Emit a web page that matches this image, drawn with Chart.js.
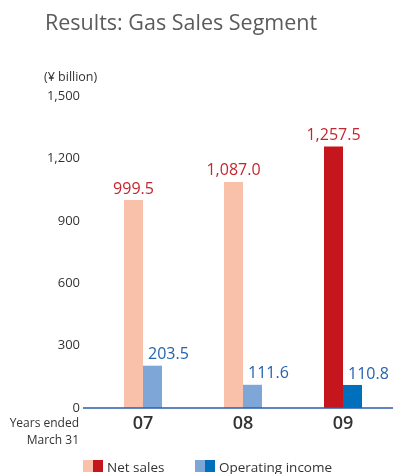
<!DOCTYPE html>
<html>
<head>
<meta charset="utf-8">
<script src="https://cdn.jsdelivr.net/npm/chart.js@4"></script>
<style>
  html, body { margin: 0; padding: 0; background: #fff; }
  #wrap { position: relative; width: 393px; height: 474px; }
</style>
</head>
<body>
<div id="wrap"><canvas id="gasChart" width="393" height="474"></canvas></div>
<script>
const years = ['07', '08', '09'];
const netSales = [999.5, 1087.0, 1257.5];
const operatingIncome = [203.5, 111.6, 110.8];
const yTicks = [0, 300, 600, 900, 1200, 1500];

const FONT = "'Open Sans', 'Noto Sans', sans-serif";
const salesColors = ['#f9c1a9', '#f9c1a9', '#c5161d'];
const incomeColors = ['#7ea7d8', '#7ea7d8', '#0070bd'];

// Titles, unit note, value labels, baseline and legend
const decorPlugin = {
    id: 'decorPlugin',
    afterDatasetsDraw(chart) {
        const { ctx } = chart;
        const y = chart.scales.y;
        ctx.save();

        ctx.fillStyle = '#5b5b5b';
        ctx.font = `21.5px ${FONT}`;
        ctx.textBaseline = 'middle';
        ctx.textAlign = 'left';
        ctx.fillText('Results: Gas Sales Segment', 45, 24);

        ctx.fillStyle = '#333';
        ctx.font = `12.5px ${FONT}`;
        ctx.fillText('(¥ billion)', 44, 77);

        // baseline
        ctx.strokeStyle = '#2b5ca8';
        ctx.lineWidth = 1.5;
        ctx.beginPath();
        ctx.moveTo(83, y.getPixelForValue(0));
        ctx.lineTo(393, y.getPixelForValue(0));
        ctx.stroke();

        // value labels
        ctx.font = `16px ${FONT}`;
        ctx.textBaseline = 'bottom';
        chart.getDatasetMeta(0).data.forEach((bar, i) => {
            ctx.fillStyle = '#c4262e';
            ctx.textAlign = 'center';
            ctx.fillText(netSales[i].toLocaleString('en-US', { minimumFractionDigits: 1 }), bar.x, bar.y - 3);
        });
        chart.getDatasetMeta(1).data.forEach((bar, i) => {
            ctx.fillStyle = '#2563ae';
            ctx.textAlign = 'left';
            ctx.fillText(operatingIncome[i].toFixed(1), bar.x - bar.width / 2 + 5, bar.y - 3);
        });

        // axis caption
        ctx.fillStyle = '#333';
        ctx.font = `12px ${FONT}`;
        ctx.textAlign = 'right';
        ctx.textBaseline = 'middle';
        ctx.fillText('Years ended', 79, 424);
        ctx.fillText('March 31', 79, 441);

        // legend
        const items = [
            { x: 83, label: 'Net sales', colors: [salesColors[0], salesColors[2]] },
            { x: 195, label: 'Operating income', colors: [incomeColors[0], incomeColors[2]] }
        ];
        ctx.font = `13.5px ${FONT}`;
        ctx.textAlign = 'left';
        items.forEach(it => {
            ctx.fillStyle = it.colors[0];
            ctx.fillRect(it.x, 460, 10, 12);
            ctx.fillStyle = it.colors[1];
            ctx.fillRect(it.x + 10, 460, 10, 12);
            ctx.fillStyle = '#333';
            ctx.fillText(it.label, it.x + 24, 468);
        });

        ctx.restore();
    }
};

new Chart(document.getElementById('gasChart'), {
    type: 'bar',
    data: {
        labels: years,
        datasets: [
            { label: 'Net sales', data: netSales, backgroundColor: salesColors },
            { label: 'Operating income', data: operatingIncome, backgroundColor: incomeColors }
        ]
    },
    options: {
        responsive: false,
        animation: false,
        layout: { padding: { top: 96, right: 0, bottom: 0, left: 0 } },
        datasets: { bar: { categoryPercentage: 0.38, barPercentage: 1 } },
        plugins: {
            legend: { display: false },
            tooltip: { enabled: false }
        },
        scales: {
            x: {
                grid: { display: false, drawTicks: false },
                border: { display: false },
                ticks: {
                    padding: 5,
                    color: '#333',
                    font: { family: FONT, size: 18, weight: '600' }
                },
                afterFit(scale) { scale.height = 66; }
            },
            y: {
                min: 0,
                max: 1500,
                grid: { display: false, drawTicks: false },
                border: { display: false },
                afterBuildTicks(scale) { scale.ticks = yTicks.map(v => ({ value: v })); },
                afterFit(scale) { scale.width = 93; },
                ticks: {
                    padding: 13,
                    color: '#333',
                    font: { family: FONT, size: 13 },
                    callback: v => v.toLocaleString('en-US')
                }
            }
        }
    },
    plugins: [decorPlugin]
});
</script>
</body>
</html>
